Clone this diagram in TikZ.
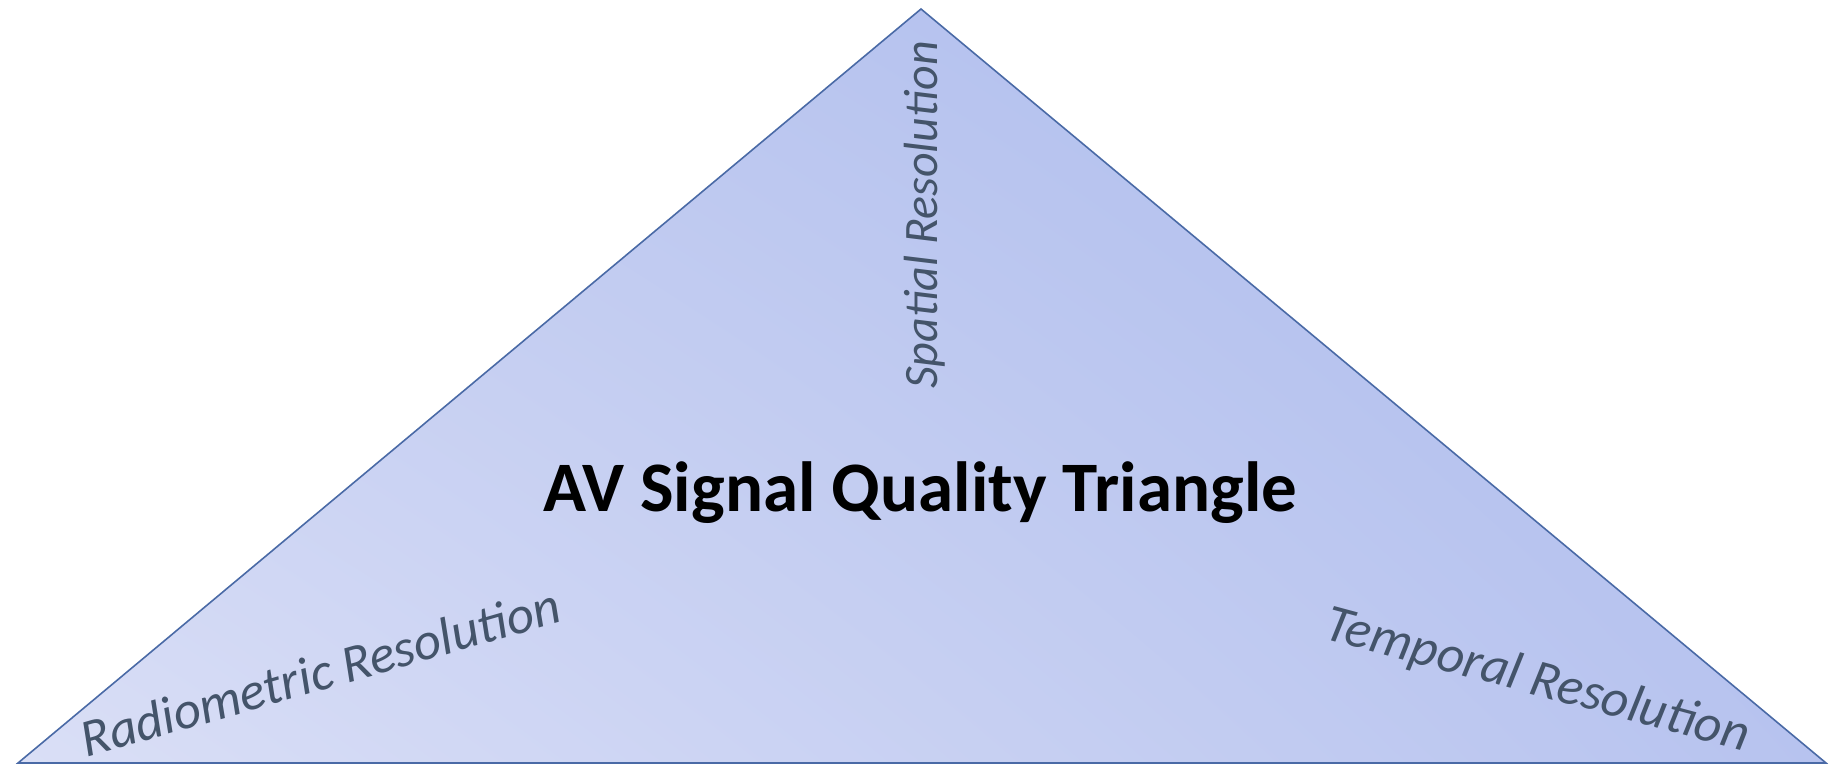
\documentclass[tikz,border=0pt]{standalone}
\usepackage{fontspec}
\setmainfont{Carlito}
\usetikzlibrary{shadings}
\definecolor{edgeblue}{HTML}{4A6AA6}
\definecolor{labelgray}{HTML}{44546A}
\definecolor{shadeA}{HTML}{DADFF6}
\definecolor{shadeB}{HTML}{B7C3EF}
\definecolor{shadeC}{HTML}{C4CDF1}
\definecolor{shadeD}{HTML}{A9B9EC}
\tikzset{
  sidelabel/.style={text=labelgray, font=\fontsize{53}{60}\selectfont\itshape, inner sep=0pt},
  titlelabel/.style={text=black, font=\fontsize{71}{80}\selectfont\bfseries, inner sep=0pt}
}
\begin{document}
\begin{tikzpicture}[x=1pt,y=-1pt]
            \useasboundingbox (0,0) rectangle (1835,767);
            % Corners
            \coordinate (apex) at (921,9);
            \coordinate (leftcorner) at (18,763);
            \coordinate (rightcorner) at (1826,763);

            % Triangle
            \shade[shading=bilinear interpolation, lower left=shadeA, lower right=shadeB, upper left=shadeC, upper right=shadeD] (apex) -- (leftcorner) -- (rightcorner) -- cycle;
            \draw[edgeblue, line width=1.6pt, line join=miter] (apex) -- (leftcorner) -- (rightcorner) -- cycle;

            % Labels
            \node[titlelabel] (title) at (920,493) {AV Signal Quality Triangle};
            \node[sidelabel, font=\fontsize{48}{54}\selectfont\itshape, rotate=90] (spatial) at (925,215) {Spatial Resolution};
            \node[sidelabel, rotate=16] (radiometric) at (320,672) {Radiometric Resolution};
            \node[sidelabel, rotate=-15] (temporal) at (1537,681) {Temporal Resolution};
        \end{tikzpicture}
\end{document}
